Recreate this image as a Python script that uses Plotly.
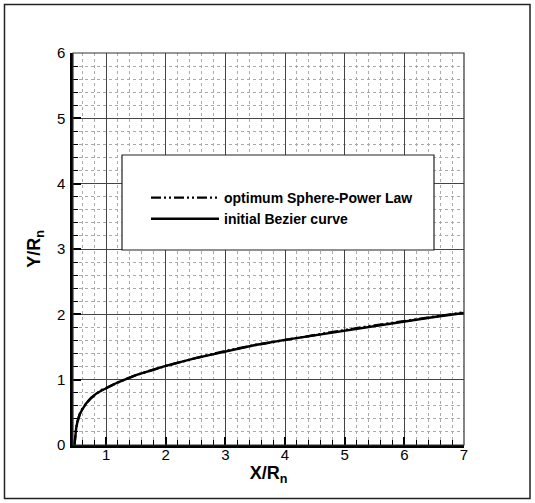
import plotly.graph_objects as go

# ---- data ----
x_opt = [0.47, 0.48, 0.50, 0.52, 0.56, 0.60, 0.67, 0.75, 0.84, 0.92, 1.00, 1.20, 1.50,
         2.00, 2.50, 3.00, 3.50, 4.00, 4.50, 5.00, 5.50, 6.00, 6.50, 7.00]
y_opt = [0.00, 0.12, 0.27, 0.36, 0.48, 0.55, 0.64, 0.72, 0.79, 0.84, 0.87, 0.96, 1.07,
         1.21, 1.33, 1.44, 1.53, 1.61, 1.69, 1.76, 1.83, 1.90, 1.96, 2.03]

x_bez = [0.47, 0.48, 0.50, 0.52, 0.56, 0.60, 0.67, 0.75, 0.84, 0.92, 1.00, 1.20, 1.50,
         2.00, 2.50, 3.00, 3.50, 4.00, 4.50, 5.00, 5.50, 6.00, 6.50, 7.00]
y_bez = [0.00, 0.11, 0.26, 0.35, 0.47, 0.54, 0.64, 0.72, 0.79, 0.83, 0.87, 0.96, 1.07,
         1.21, 1.33, 1.43, 1.53, 1.61, 1.68, 1.76, 1.83, 1.89, 1.96, 2.02]

series_names = ["optimum Sphere-Power Law", "initial Bezier curve"]
x_ticks = [1, 2, 3, 4, 5, 6, 7]
y_ticks = [0, 1, 2, 3, 4, 5, 6]
x_range = [0.446, 7.0]
y_range = [0, 6]

fig = go.Figure()
fig.add_trace(go.Scatter(x=x_opt, y=y_opt, mode="lines", name=series_names[0],
                         line=dict(color="black", width=2.4, dash="10px,3px,2px,3px,2px,3px")))
fig.add_trace(go.Scatter(x=x_bez, y=y_bez, mode="lines", name=series_names[1],
                         line=dict(color="black", width=2.4)))

L, R, T, B = 73, 71, 53, 58
W, H = 535, 503
pw, ph = W - L - R, H - T - B

def px_x(p):
    return (p - L) / pw

def px_y(p):
    return (H - B - p) / ph

FONT = "Liberation Sans, Arial"

axis_common = dict(
    showline=True, linecolor="black", linewidth=2.5,
    ticks="inside", ticklen=8, tickwidth=1.5, tickcolor="black",
    showgrid=True, gridcolor="#444", gridwidth=1,
    zeroline=False,
    tickfont=dict(family=FONT, size=15, color="black"),
    minor=dict(ticks="inside", ticklen=5, tickwidth=1, tickcolor="black",
               showgrid=True, gridcolor="#aaa", griddash="dot", gridwidth=1,
               dtick=0.2, tick0=0),
)

fig.update_xaxes(range=x_range, tickvals=x_ticks, ticktext=[str(v) for v in x_ticks],
                 ticklabelstandoff=-6,
                 title=dict(text="<b>X/R<sub>n</sub></b>", standoff=2,
                            font=dict(family=FONT, size=18, color="black")),
                 **axis_common)
fig.update_yaxes(range=y_range, tickvals=y_ticks, ticktext=[str(v) for v in y_ticks],
                 ticklabelstandoff=2,
                 title=dict(text="<b>Y/R<sub>n</sub></b>", standoff=12,
                            font=dict(family=FONT, size=18, color="black")),
                 **axis_common)

shapes = [
    # plot frame (thin top/right)
    dict(type="rect", xref="paper", yref="paper", x0=0, x1=1, y0=0, y1=1,
         line=dict(color="#333", width=1.2), layer="above"),
    # outer figure frame
    dict(type="rect", xref="paper", yref="paper",
         x0=px_x(4.5), x1=px_x(530), y0=px_y(498.5), y1=px_y(4.5),
         line=dict(color="#222", width=1.5), layer="above"),
    # legend box
    dict(type="rect", xref="paper", yref="paper",
         x0=px_x(122), x1=px_x(434), y0=px_y(250), y1=px_y(155),
         line=dict(color="#222", width=1.2), fillcolor="white", layer="above"),
]

fig.update_layout(
    width=W, height=H,
    margin=dict(l=L, r=R, t=T, b=B),
    paper_bgcolor="white", plot_bgcolor="white",
    shapes=shapes,
    showlegend=True,
    legend=dict(x=px_x(146), y=px_y(182), xanchor="left", yanchor="top",
                bgcolor="rgba(0,0,0,0)", borderwidth=0, itemwidth=68,
                tracegroupgap=0,
                font=dict(family=FONT, size=14, color="black")),
)
for tr in fig.data:
    tr.name = "<b>" + tr.name + "</b>"

fig.write_html("out.html")
